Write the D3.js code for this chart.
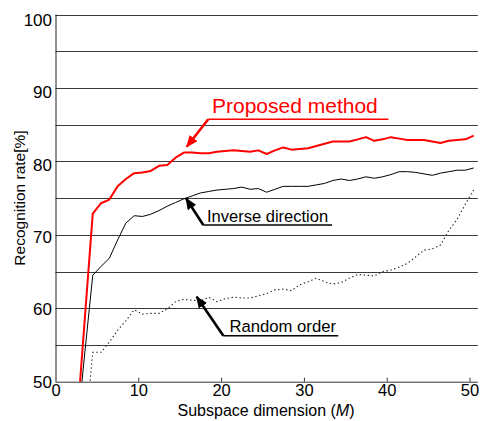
<!DOCTYPE html>
<html>
<head>
<meta charset="utf-8">
<script src="https://cdn.jsdelivr.net/npm/d3@7"></script>
<style>
  body { margin: 0; background: #fff; }
  text { font-family: "Liberation Sans", Arial, sans-serif; }
</style>
</head>
<body>
<div id="chart"></div>
<script>
const svgWidth = 481,
    svgHeight = 421,
    margin = { top: 14.5, right: 3.2, bottom: 39.3, left: 55.5 },
    width = svgWidth - margin.left - margin.right,
    height = svgHeight - margin.top - margin.bottom;

// subspace dimension of each sample (as placed on the axis)
const dims = [2.5, 3.5, 4.5, 5.5, 6.5, 7.5, 8.5, 9.5, 10.5, 11.5, 12.5, 13.5, 14.5, 15.5, 16.5,
    17.5, 18.5, 19.5, 20.5, 21.5, 22.5, 23.5, 24.5, 25.5, 26.5, 27.5, 28.5, 29.5, 30.5, 31.5,
    32.5, 33.5, 34.5, 35.5, 36.5, 37.5, 38.5, 39.5, 40.5, 41.5, 42.5, 43.5, 44.5, 45.5, 46.5,
    47.5, 48.5, 49.5, 50.5];

const proposed = [43, 58, 72.9, 74.3, 74.8, 76.6, 77.6, 78.4, 78.5, 78.7, 79.4, 79.5, 80.5, 81.2, 81.2,
    81.1, 81.1, 81.3, 81.4, 81.5, 81.4, 81.3, 81.5, 81.0, 81.5, 81.9, 81.6, 81.7, 81.8, 82.1,
    82.4, 82.7, 82.7, 82.7, 83.0, 83.3, 82.8, 83.0, 83.3, 83.1, 82.9, 82.9, 82.9, 82.7, 82.5,
    82.8, 82.9, 83.0, 83.5];

const inverse = [42, 53.5, 64.5, 65.7, 66.8, 69.3, 71.6, 72.6, 72.5, 72.8, 73.3, 73.9, 74.4, 74.9, 75.3,
    75.7, 75.9, 76.1, 76.2, 76.3, 76.5, 76.2, 76.3, 75.8, 76.2, 76.6, 76.6, 76.6, 76.6, 76.8,
    77.0, 77.4, 77.6, 77.4, 77.6, 77.9, 77.7, 77.9, 78.2, 78.6, 78.6, 78.5, 78.3, 78.1, 78.4,
    78.6, 78.8, 78.8, 79.1];

const random = [null, 42, 54.0, 54.0, 55.4, 57.0, 58.3, 59.8, 59.2, 59.3, 59.3, 59.9, 60.9, 61.2, 61.1,
    61.0, 61.5, 60.9, 61.3, 61.5, 61.4, 61.4, 61.7, 62.0, 62.5, 62.6, 62.4, 63.2, 63.6, 64.1,
    63.6, 63.3, 63.5, 64.1, 64.6, 64.5, 64.4, 65.0, 65.2, 65.6, 66.1, 67.0, 67.9, 68.1, 68.6,
    70.6, 72.1, 74.2, 76.1];

const xTicks = [0, 10, 20, 30, 40, 50];
const yTicks = [50, 60, 70, 80, 90, 100];
const yGrid = [55, 60, 65, 70, 75, 80, 85, 90, 95, 100];

let svg = d3.select("#chart").append("svg")
    .attr("width", svgWidth)
    .attr("height", svgHeight);

let g = svg.append("g")
    .attr("transform", `translate(${margin.left},${margin.top})`);

let xScale = d3.scaleLinear().domain([0, 51]).range([0, width]),
    yScale = d3.scaleLinear().domain([50, 100]).range([height, 0]),
    // tick labels sit a little lower than their grid lines in the original
    yLabelScale = d3.scaleLinear().domain([50, 100]).range([height - 0.2, 5.2]);

// clip the curves to the plotting area
svg.append("defs").append("clipPath")
    .attr("id", "plot-clip")
    .append("rect")
    .attr("width", width)
    .attr("height", height);

// horizontal grid lines
g.selectAll(".grid")
    .data(yGrid)
    .join("line")
    .attr("class", "grid")
    .attr("x1", 0)
    .attr("x2", width)
    .attr("y1", (d) => Math.round(yScale(d) + margin.top) - margin.top + 0.5)
    .attr("y2", (d) => Math.round(yScale(d) + margin.top) - margin.top + 0.5)
    .attr("stroke", "#3a3a3a")
    .attr("stroke-width", 1);

// x axis: inward ticks, no domain end ticks
let xAxis = g.append("g")
    .attr("transform", `translate(0,${height})`)
    .call(d3.axisBottom(xScale).tickValues(xTicks).tickSizeInner(-4).tickSizeOuter(0).tickPadding(3));
xAxis.select(".domain").attr("stroke", "#333").attr("d", `M0,0.5H${width}`);
xAxis.selectAll(".tick line").attr("stroke", "#333").filter((d) => d === 0).remove();
xAxis.selectAll(".tick text")
    .attr("fill", "#000")
    .style("font-size", "16.5px")
    .style("font-family", "'Liberation Sans', Arial, sans-serif");

// y axis line
g.append("line")
    .attr("x1", 0.5).attr("x2", 0.5)
    .attr("y1", 0).attr("y2", height)
    .attr("stroke", "#222");

// y tick labels
g.selectAll(".ylabel")
    .data(yTicks)
    .join("text")
    .attr("class", "ylabel")
    .attr("x", -3.5)
    .attr("y", (d) => yLabelScale(d))
    .attr("dy", "0.36em")
    .attr("text-anchor", "end")
    .style("font-size", "17px")
    .text((d) => d);

// axis titles
svg.append("text")
    .attr("transform", `translate(25, 198) rotate(-90)`)
    .attr("text-anchor", "middle")
    .style("font-size", "15.5px")
    .text("Recognition rate[%]");

let xTitle = svg.append("text")
    .attr("x", 266)
    .attr("y", 416)
    .attr("text-anchor", "middle")
    .style("font-size", "16px");
xTitle.append("tspan").text("Subspace dimension (");
xTitle.append("tspan").style("font-style", "italic").text("M");
xTitle.append("tspan").text(")");

// curves
let curves = g.append("g").attr("clip-path", "url(#plot-clip)");

function makeLine(values) {
    return d3.line()
        .defined((d, i) => values[i] != null)
        .x((d) => xScale(d))
        .y((d, i) => yScale(values[i]))(dims);
}

curves.append("path")
    .attr("d", makeLine(random))
    .attr("fill", "none")
    .attr("stroke", "#222")
    .attr("stroke-width", 1.1)
    .attr("stroke-dasharray", "1.4,2.6");

curves.append("path")
    .attr("d", makeLine(inverse))
    .attr("fill", "none")
    .attr("stroke", "#000")
    .attr("stroke-width", 1);

curves.append("path")
    .attr("d", makeLine(proposed))
    .attr("fill", "none")
    .attr("stroke", "#ff0000")
    .attr("stroke-width", 2)
    .attr("stroke-linejoin", "round");

// annotations: arrow tip, elbow, end of underline, text start, text baseline (data coords)
let notes = [
    { text: "Proposed method", color: "#ff0000", size: 21, tip: [15.85, 82.0], elbow: [18.45, 85.73], end: 40.2, tx: 18.9, ty: 86.6 },
    { text: "Inverse direction", color: "#000", size: 16.5, tip: [15.76, 74.97], elbow: [17.85, 71.34], end: 33.4, tx: 18.3, ty: 71.8 },
    { text: "Random order", color: "#000", size: 16.7, tip: [17.05, 61.57], elbow: [20.27, 56.26], end: 34.15, tx: 21.0, ty: 56.8 }
];

let defs = svg.select("defs");
notes.forEach((n, i) => {
    defs.append("marker")
        .attr("id", "arrow" + i)
        .attr("viewBox", "0 0 12 10")
        .attr("refX", 11)
        .attr("refY", 5)
        .attr("markerUnits", "userSpaceOnUse")
        .attr("markerWidth", 12)
        .attr("markerHeight", 10)
        .attr("orient", "auto")
        .append("path")
        .attr("d", "M0,0L12,5L0,10Z")
        .attr("fill", n.color);

    g.append("path")
        .attr("d", `M${xScale(n.end)},${yScale(n.elbow[1])}L${xScale(n.elbow[0])},${yScale(n.elbow[1])}`)
        .attr("stroke", n.color)
        .attr("stroke-width", 1.6)
        .attr("fill", "none");

    g.append("line")
        .attr("x1", xScale(n.elbow[0]))
        .attr("y1", yScale(n.elbow[1]))
        .attr("x2", xScale(n.tip[0]))
        .attr("y2", yScale(n.tip[1]))
        .attr("stroke", n.color)
        .attr("stroke-width", 2.6)
        .attr("marker-end", `url(#arrow${i})`);

    g.append("text")
        .attr("x", xScale(n.tx))
        .attr("y", yScale(n.ty))
        .attr("fill", n.color)
        .style("font-size", n.size + "px")
        .text(n.text);
});
</script>
</body>
</html>
